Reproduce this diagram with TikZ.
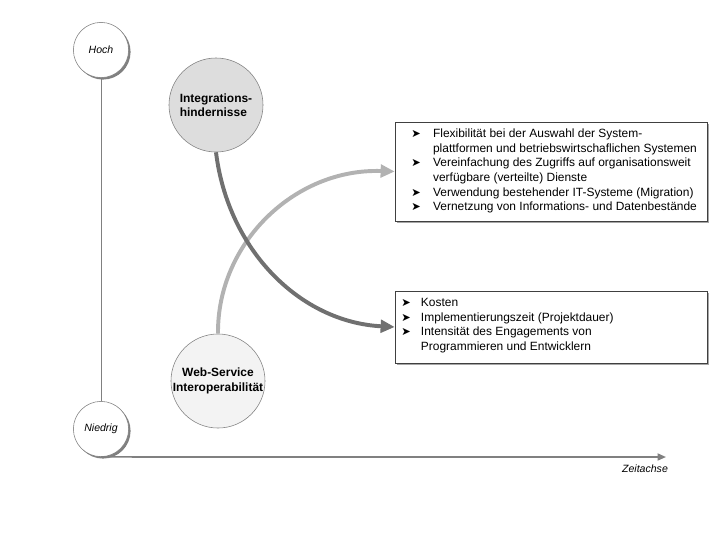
\documentclass[tikz,border=0pt]{standalone}
\usepackage{fontspec}
\setmainfont{Liberation Sans}
\newfontfamily\symfont{DejaVu Sans}
\usepackage{tikz}
\usetikzlibrary{shadows}
\usetikzlibrary{arrows.meta}
\definecolor{achsgrau}{RGB}{128,128,128}
\definecolor{dunkelgrau}{RGB}{112,112,112}
\definecolor{hellgrau}{RGB}{178,178,178}
\definecolor{kreisgrau}{RGB}{221,221,221}
\definecolor{kreishell}{RGB}{243,243,243}
\newcommand{\pfeil}{{\symfont\fontsize{8}{8}\selectfont\char"27A4}}
\tikzstyle{levelvertex}=[circle,draw=achsgrau,fill=white,minimum size=1.38cm,inner sep=0pt,font=\fontsize{7.5}{9}\selectfont\itshape,drop shadow={shadow xshift=1.4pt,shadow yshift=-1.4pt,fill=achsgrau,opacity=1}]
\tikzstyle{bigvertex}=[circle,draw=achsgrau,minimum size=2.35cm,inner sep=0pt,font=\fontsize{8.5}{10.3}\selectfont\bfseries]
\tikzstyle{listbox}=[draw=black!75,fill=white,minimum width=7.8cm,inner sep=0pt,drop shadow={shadow xshift=1.4pt,shadow yshift=-1.4pt,fill=black!35,opacity=1}]
\tikzstyle{listtext}=[anchor=north west,inner sep=0pt,font=\fontsize{8.5}{10.35}\selectfont]
\tikzstyle{bogen}=[line width=2.8pt,-{Triangle[length=10pt,width=9pt]}]

\begin{document}
\begin{tikzpicture}[x=0.025cm,y=-0.025cm]
\useasboundingbox (0,0) rectangle (720,540);

%Achsen
    \foreach \pos/\name/\label in {{(101,50)/hoch/Hoch}, {(101,429)/niedrig/Niedrig}}
        \node[levelvertex] (\name) at \pos {\label};
    \coordinate (zeit) at (666,457);
    \draw[achsgrau, line width=0.6pt] (hoch) -- (niedrig);
    \draw[achsgrau, line width=1.2pt, -{Triangle[length=6pt,width=5pt]}] (niedrig.south) -- (zeit);
\node[font=\fontsize{7.5}{9}\selectfont\itshape] (zeitlabel) at (645,469) {Zeitachse};

%Kreise
    \node[bigvertex, fill=kreisgrau, align=left] (integ) at (216,105) {Integrations-\\hindernisse};
    \node[bigvertex, fill=kreishell, align=center] (web) at (218,381) {Web-Service\\Interoperabilität};

%Listen
    \node[listbox, minimum height=2.475cm] (flex) at (551,171.5) {};
    \node[listtext] (flextext) at (411,127.4) {%
      \begin{tabular}{@{}p{15.5pt}@{}l@{}}
      \pfeil & Flexibilität bei der Auswahl der System-\\
             & plattformen und betriebswirtschaflichen Systemen\\
      \pfeil & Vereinfachung des Zugriffs auf organisationsweit\\
             & verfügbare (verteilte) Dienste\\
      \pfeil & Verwendung bestehender IT-Systeme (Migration)\\
      \pfeil & Vernetzung von Informations- und Datenbestände
      \end{tabular}};
    \node[listbox, minimum height=1.8cm] (kosten) at (551,327) {};
    \node[listtext] (kostentext) at (401,296.4) {%
      \begin{tabular}{@{}p{14pt}@{}l@{}}
      \pfeil & Kosten\\
      \pfeil & Implementierungszeit (Projektdauer)\\
      \pfeil & Intensität des Engagements von\\
             & Programmieren und Entwicklern
      \end{tabular}};

%Boegen
    \draw[bogen, hellgrau] (web.north) .. controls (217,243) and (295,168) .. (flex.west);
    \draw[bogen, dunkelgrau] (integ.south) .. controls (228,250) and (300,322) .. (kosten.west);

\end{tikzpicture}
\end{document}
